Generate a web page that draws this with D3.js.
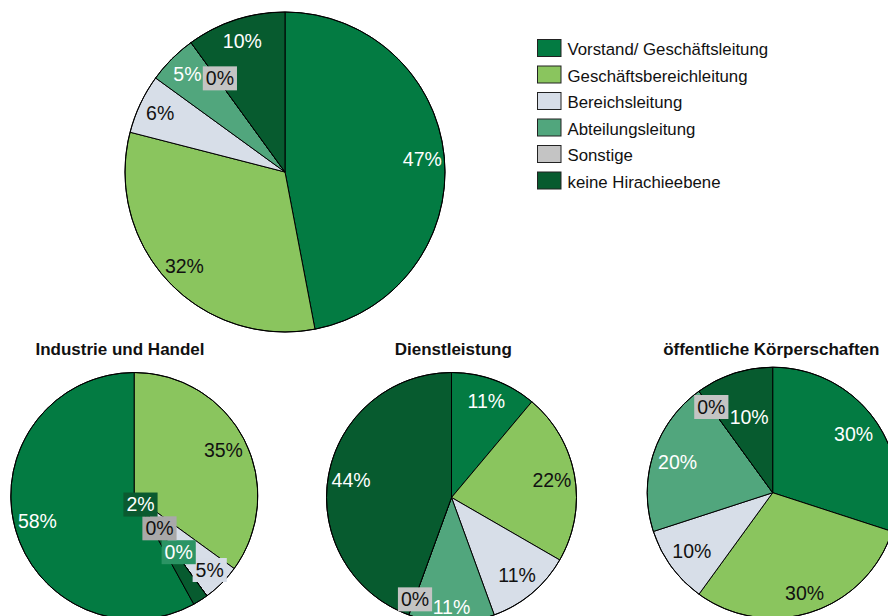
<!DOCTYPE html>
<html><head><meta charset="utf-8">
<script src="https://cdn.jsdelivr.net/npm/d3@7"></script>
<style>
body{margin:0;background:#fff}
svg{display:block;font-family:"Liberation Sans",Arial,Helvetica,sans-serif}
</style>
</head><body>
<svg id="chart" width="888" height="616"></svg>
<script>
// ---- data ----
const categories = ["Vorstand/ Geschäftsleitung","Geschäftsbereichleitung","Bereichsleitung","Abteilungsleitung","Sonstige","keine Hirachieebene"];
const pieTitles = ["", "Industrie und Handel", "Dienstleistung", "öffentliche Körperschaften"];
const valuesGesamt = [47, 32, 6, 5, 0, 10];
const valuesIndustrie = [58, 35, 5, 0, 0, 2];
const valuesDienstleistung = [11, 22, 11, 11, 0, 44];
const valuesOeffentlich = [30, 30, 10, 20, 0, 10];

// ---- styles / layout ----
const colors = ["#037b42", "#8ac55e", "#d7dee8", "#51a67d", "#c4c4c4", "#075b2f"];
const textColors = ["#fff", "#111", "#111", "#fff", "#111", "#fff"];
const layout = [
  {values: valuesGesamt, cx: 285, cy: 172, r: 160, labelR: 138, firstEndsAtTop: false},
  {values: valuesIndustrie, cx: 134.3, cy: 496, r: 123.5, labelR: 100, firstEndsAtTop: true, titleX: 120},
  {values: valuesDienstleistung, cx: 451.5, cy: 497.5, r: 125, labelR: 102, firstEndsAtTop: false, titleX: 453.3},
  {values: valuesOeffentlich, cx: 772.7, cy: 492.7, r: 125.5, labelR: 100, firstEndsAtTop: false, titleX: 771.3}
];
// label displacement (Excel-style collision avoidance)
const labelNudge = {
  "0-4": [16, 18],
  "1-2": [4.7, 3.3], "1-3": [-14.4, -24.7], "1-4": [-33.6, -48.6], "1-5": [-47.4, -75.9],
  "2-3": [0, 8], "2-4": [-1.6, 6],
  "3-1": [1, 5], "3-4": [-2.6, -4.8], "3-5": [7.4, 20]
};
const boxOverride = {"1-3": "#2b9464", "1-4": "#a9a9a9", "1-2": "#d6dde7", "1-5": "#0b5a30"};

const svg = d3.select("#chart");
const arc = d3.arc().innerRadius(0);

layout.forEach((p, pi) => {
  const total = d3.sum(p.values);
  const start = p.firstEndsAtTop ? -2 * Math.PI * p.values[0] / total : 0;
  const pie = d3.pie().sort(null).value(d => d).startAngle(start).endAngle(start + 2 * Math.PI);
  const arcs = pie(p.values);
  const g = svg.append("g").attr("transform", `translate(${p.cx},${p.cy})`);
  g.selectAll("path.slice").data(arcs).join("path")
    .attr("class", "slice")
    .attr("d", d => arc.outerRadius(p.r)(d))
    .attr("fill", (d, i) => colors[i])
    .attr("stroke", "#000").attr("stroke-width", 1).attr("stroke-linejoin", "round");
  g.append("circle").attr("r", p.r).attr("fill", "none").attr("stroke", "#000").attr("stroke-width", 1);

  const lab = d3.arc().innerRadius(p.labelR).outerRadius(p.labelR);
  arcs.forEach((d, i) => {
    const key = pi + "-" + i;
    let [x, y] = lab.centroid(d);
    const n = labelNudge[key];
    if (n) { x += n[0]; y += n[1]; }
    const lg = g.append("g").attr("transform", `translate(${x},${y})`);
    const t = lg.append("text")
      .attr("text-anchor", "middle").attr("dy", "0.35em")
      .attr("font-size", 19.5).attr("fill", textColors[i])
      .text(p.values[i] + "%");
    if (n && p.values[i] <= 5) {
      const w = t.node().getComputedTextLength() + 6;
      lg.insert("rect", "text")
        .attr("x", -w / 2).attr("y", -12).attr("width", w).attr("height", 24)
        .attr("fill", boxOverride[key] || colors[i]);
    }
  });

  if (pieTitles[pi]) {
    svg.append("text").attr("x", p.titleX).attr("y", 354.5)
      .attr("text-anchor", "middle").attr("font-size", 17).attr("font-weight", "bold")
      .attr("fill", "#111").text(pieTitles[pi]);
  }
});

// ---- legend ----
const legend = svg.append("g").attr("transform", "translate(537,39)");
categories.forEach((c, i) => {
  const row = legend.append("g").attr("transform", `translate(0,${i * 26.5})`);
  row.append("rect").attr("x", 0.5).attr("y", 0.5).attr("width", 23.5).attr("height", 17)
    .attr("fill", colors[i]).attr("stroke", "#222").attr("stroke-width", 1);
  row.append("text").attr("x", 30.5).attr("y", 16).attr("font-size", 16.8).attr("fill", "#111").text(c);
});
</script>
</body></html>
